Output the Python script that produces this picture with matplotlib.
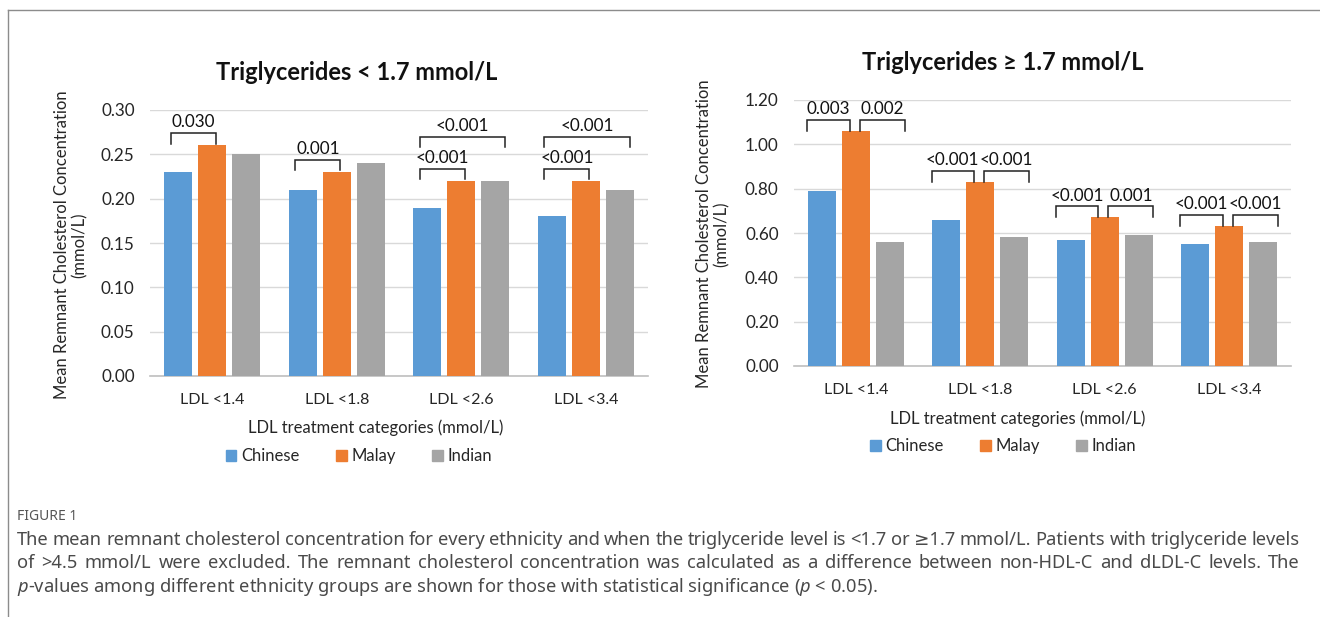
import numpy as np
import matplotlib
matplotlib.use('Agg')
import matplotlib.pyplot as plt
from matplotlib.lines import Line2D
from matplotlib.patches import Patch

plt.rcParams['font.family'] = ['Lato', 'DejaVu Sans']
plt.rcParams['mathtext.fontset'] = 'custom'
plt.rcParams['mathtext.it'] = 'Noto Sans:italic'
plt.rcParams['mathtext.rm'] = 'Noto Sans'

# данные
categories = ['LDL <1.4', 'LDL <1.8', 'LDL <2.6', 'LDL <3.4']
groups = ['Chinese', 'Malay', 'Indian']
colors = ['#5B9BD5', '#ED7D31', '#A5A5A5']

low_chinese = [0.23, 0.21, 0.19, 0.18]
low_malay = [0.26, 0.23, 0.22, 0.22]
low_indian = [0.25, 0.24, 0.22, 0.21]

high_chinese = [0.79, 0.66, 0.57, 0.55]
high_malay = [1.06, 0.83, 0.67, 0.63]
high_indian = [0.56, 0.58, 0.59, 0.56]

# p-values: (category, from group, to group, label)
low_pvalues = [(0, 0, 1, '0.030'), (1, 0, 1, '0.001'),
               (2, 0, 1, '<0.001'), (2, 0, 2, '<0.001'),
               (3, 0, 1, '<0.001'), (3, 0, 2, '<0.001')]
high_pvalues = [(0, 0, 1, '0.003'), (0, 1, 2, '0.002'),
                (1, 0, 1, '<0.001'), (1, 1, 2, '<0.001'),
                (2, 0, 1, '<0.001'), (2, 1, 2, '0.001'),
                (3, 0, 1, '<0.001'), (3, 1, 2, '<0.001')]

caption = [
    'The mean remnant cholesterol concentration for every ethnicity and when the triglyceride level is <1.7 or \u22651.7 mmol/L. Patients with triglyceride levels',
    'of >4.5 mmol/L were excluded. The remnant cholesterol concentration was calculated as a difference between non-HDL-C and dLDL-C levels. The',
    '$p$-values among different ethnicity groups are shown for those with statistical significance ($p$ < 0.05).',
]

W, H = 1320, 617
fig = plt.figure(figsize=(W / 100, H / 100), dpi=100)

BAR_W = 0.225
STEP = 0.273


def draw_chart(ax, series, ymax, ystep, title, title_xy, pvalues, style):
    x = np.arange(len(categories))
    for k, vals in enumerate(series):
        ax.bar(x + (k - 1) * STEP, vals, width=BAR_W, color=colors[k], label=groups[k], zorder=3)
    ax.set_xlim(-0.5, len(categories) - 0.5)
    ax.set_ylim(0, ymax)
    ax.set_yticks(np.arange(0, ymax + ystep / 2, ystep))
    ax.yaxis.set_major_formatter(matplotlib.ticker.FormatStrFormatter('%.2f'))
    ax.set_xticks(x)
    ax.set_xticklabels(categories)
    ax.grid(axis='y', color='#D9D9D9', lw=1, zorder=0)
    for s in ['top', 'right', 'left']:
        ax.spines[s].set_visible(False)
    ax.spines['bottom'].set_color('#BFBFBF')
    ax.spines['bottom'].set_linewidth(1.2)
    ax.tick_params(axis='both', length=0, labelsize=11.5, colors='#262626')
    ax.tick_params(axis='y', pad=11, labelsize=12.3)
    ax.tick_params(axis='x', pad=12)

    fig.text(title_xy[0] / W, 1 - title_xy[1] / H, title, ha='center', va='center',
             fontsize=17, fontweight='bold', color='#111111')

    # скобки со значениями p
    stacked = {}
    for cat, i, j, label in pvalues:
        if style == 'nested':
            xl = cat + (i - 1) * STEP - 0.06
            xr = cat + (j - 1) * STEP + 0.05 * (j - 1) + 0.03
            top_bar = max(series[k][cat] for k in range(i, j + 1))
            level = stacked.get(cat, 0)
            stacked[cat] = level + 1
            leg = top_bar + 0.002 + level * 0.036
            top = leg + 0.012
        else:
            if i == 0:
                xl = cat - STEP - 0.12
                xr = cat - 0.05
            else:
                xl = cat + 0.03
                xr = cat + STEP + 0.12
            leg = series[1][cat]
            top = leg + 0.05
        ax.plot([xl, xl, xr, xr], [leg, top, top, leg], color='#222222', lw=1.1,
                zorder=4, solid_joinstyle='miter')
        ax.annotate(label, ((xl + xr) / 2, top), xytext=(0, 2), textcoords='offset points',
                    ha='center', va='bottom', fontsize=12.3, color='#111111')


ax1 = fig.add_axes([150 / W, 1 - 376 / H, 498 / W, 266 / H])
draw_chart(ax1, [low_chinese, low_malay, low_indian], 0.30, 0.05,
           'Triglycerides < 1.7 mmol/L', (357, 72), low_pvalues, 'nested')

ax2 = fig.add_axes([794 / W, 1 - 366 / H, 497 / W, 266 / H])
draw_chart(ax2, [high_chinese, high_malay, high_indian], 1.20, 0.20,
           'Triglycerides \u2265 1.7 mmol/L', (1003, 62), high_pvalues, 'side')

ylab = 'Mean Remnant Cholesterol Concentration\n(mmol/L)'
fig.text(71 / W, 1 - 245 / H, ylab, rotation=90, ha='center', va='center',
         fontsize=12, color='#262626', linespacing=1.1)
fig.text(713 / W, 1 - 234 / H, ylab, rotation=90, ha='center', va='center',
         fontsize=12, color='#262626', linespacing=1.1)

xlab = 'LDL treatment categories (mmol/L)'
fig.text(376 / W, 1 - 428 / H, xlab, ha='center', va='center', fontsize=12, color='#262626')
fig.text(1018 / W, 1 - 419 / H, xlab, ha='center', va='center', fontsize=12, color='#262626')

handles = [Patch(color=c) for c in colors]
for cx, cy in [(359, 456), (1003, 446)]:
    fig.legend(handles, groups, loc='center', bbox_to_anchor=(cx / W, 1 - cy / H),
               ncol=3, frameon=False, fontsize=12, handlelength=0.65, handleheight=0.65,
               handletextpad=0.3, columnspacing=2.15, labelcolor='#262626')

# рамка
fig.add_artist(Line2D([8 / W, 1], [1 - 10 / H, 1 - 10 / H], transform=fig.transFigure,
                      color='#8C8C8C', lw=1))
fig.add_artist(Line2D([8 / W, 8 / W], [1 - 10 / H, 0], transform=fig.transFigure,
                      color='#8C8C8C', lw=1))

# подпись (первые две строки выровнены по ширине)
cap_font = ['Noto Sans', 'DejaVu Sans']
cap_kw = dict(ha='left', va='center', fontsize=13.2, color='#4A4A4A', family=cap_font)
fig.text(17 / W, 1 - 516 / H, 'FIGURE 1', ha='left', va='center', fontsize=10,
         color='#555555', family=cap_font)
renderer = fig.canvas.get_renderer()
x_start, x_end = 17, 1300
for k, line in enumerate(caption):
    y = 1 - (540 + 23.3 * k) / H
    if k == len(caption) - 1:
        fig.text(x_start / W, y, line, **cap_kw)
        continue
    words = line.split(' ')
    texts = [fig.text(0, y, w, **cap_kw) for w in words]
    widths = [t.get_window_extent(renderer).width for t in texts]
    gap = (x_end - x_start - sum(widths)) / (len(words) - 1)
    pos = x_start
    for t, wd in zip(texts, widths):
        t.set_x(pos / W)
        pos += wd + gap

fig.savefig('out.png', dpi=100)
